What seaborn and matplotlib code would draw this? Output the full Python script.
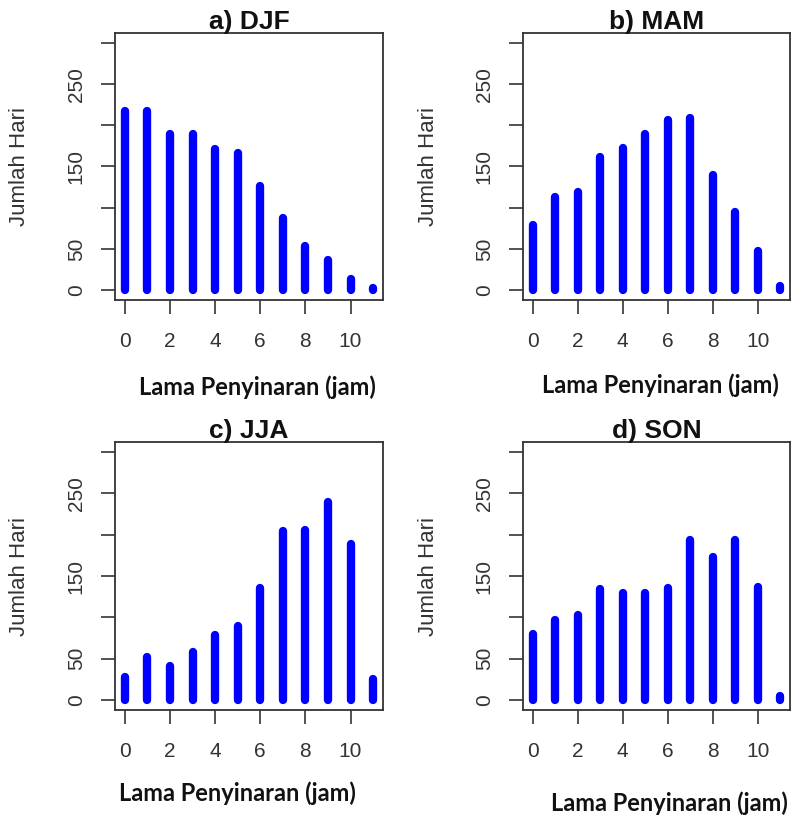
import numpy as np
import pandas as pd
import matplotlib
matplotlib.use("Agg")
import matplotlib.pyplot as plt
import seaborn as sns

# jam penyinaran 0..11
jam = list(range(12))

# jumlah hari per musim
djf = [217, 217, 189, 189, 171, 166, 126, 87, 54, 36, 14, 2]
mam = [79, 113, 119, 161, 173, 189, 206, 209, 140, 95, 48, 5]
jja = [28, 52, 41, 58, 79, 89, 135, 204, 206, 240, 189, 26]
son = [80, 97, 103, 134, 129, 129, 136, 193, 173, 193, 137, 5]

judul = ["a) DJF", "b) MAM", "c) JJA", "d) SON"]
musim = [djf, mam, jja, son]

yticks = [0, 50, 100, 150, 200, 250, 300]
ytick_labels = ["0", "50", "", "150", "", "250", ""]
xticks = [0, 2, 4, 6, 8, 10]

sns.set_theme(style="white")
plt.rcParams["font.family"] = ["Liberation Sans", "DejaVu Sans"]

W, H = 794, 817
fig = plt.figure(figsize=(W / 100, H / 100), dpi=100)

# posisi panel dalam piksel: (kiri, atas, kanan, bawah)
kotak = [(115, 33, 383, 300), (523, 33, 790, 300),
         (115, 442, 383, 710), (523, 442, 790, 710)]
# posisi label sumbu (piksel)
pos_ylabel = [(20, 167), (428, 167), (20, 577), (428, 577)]
pos_xlabel = [(257, 387), (660, 385), (237, 793), (669, 803)]

abu = "#333333"
for i in range(4):
    l, t, r, b = kotak[i]
    ax = fig.add_axes([l / W, (H - b) / H, (r - l) / W, (b - t) / H])
    df = pd.DataFrame({"jam": jam, "hari": musim[i]})
    ax.vlines(df["jam"], 0, df["hari"], colors="#0000ff", linewidth=6,
              capstyle="round")
    ax.set_xlim(-0.44, 11.44)
    ax.set_ylim(-12, 312)
    ax.set_xticks(xticks)
    ax.set_xticklabels([str(v) for v in xticks], family="Liberation Sans")
    ax.set_yticks(yticks)
    ax.set_yticklabels(ytick_labels, rotation=90, va="center",
                       family="Liberation Sans")
    ax.tick_params(axis="both", direction="out", length=10, width=1.2,
                   color=abu, labelcolor=abu, labelsize=15, left=True,
                   bottom=True)
    ax.tick_params(axis="x", pad=13)
    ax.tick_params(axis="y", pad=11)
    for s in ax.spines.values():
        s.set_color(abu)
        s.set_linewidth(1.3)
    ax.set_title(judul[i], fontsize=19, fontweight="bold", pad=3,
                 color="#111111", family="Liberation Sans")
    ax.grid(False)
    fig.text(pos_ylabel[i][0] / W, 1 - pos_ylabel[i][1] / H, "Jumlah Hari",
             rotation=90, ha="center", va="center", fontsize=16, color=abu,
             family="Liberation Sans")
    fig.text(pos_xlabel[i][0] / W, 1 - pos_xlabel[i][1] / H,
             "Lama Penyinaran (jam)", ha="center", va="center", fontsize=17,
             fontweight="bold", color="#111111", family=["Lato", "DejaVu Sans"])

fig.savefig("out.png", dpi=100, facecolor="white")
